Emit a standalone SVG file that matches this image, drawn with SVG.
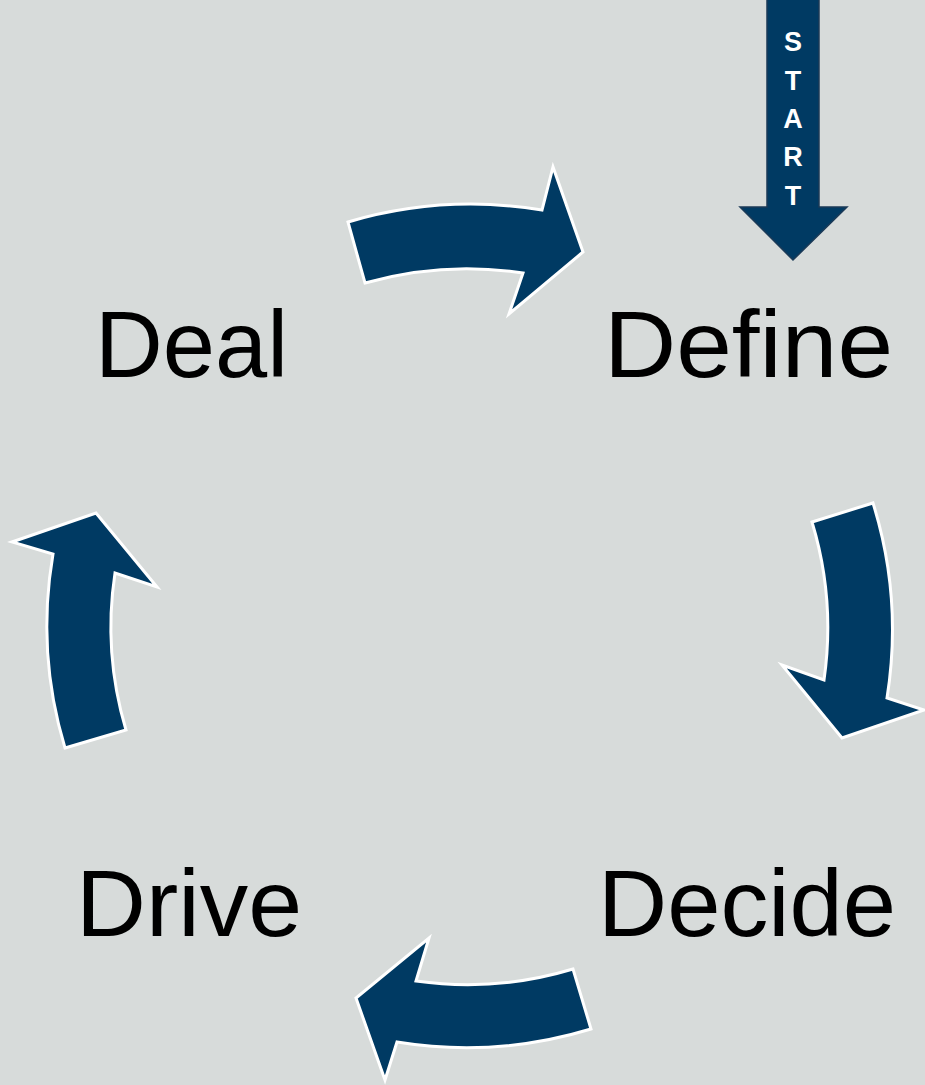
<svg xmlns="http://www.w3.org/2000/svg" width="925" height="1085" viewBox="0 0 925 1085">
<style>
.bg{fill:#d7dbda}
.arrow{fill:#003a63;stroke:#ffffff;stroke-width:3;stroke-linejoin:miter}
.start{fill:#003a63;stroke:#1b3a57;stroke-width:1.5}
.lbl{font-family:"Liberation Sans",Arial,sans-serif;font-size:94px;fill:#000000}
.st{font-family:"Liberation Sans",Arial,sans-serif;font-size:27px;font-weight:bold;fill:#ffffff;text-anchor:middle}
</style>
<rect class="bg" x="0" y="0" width="925" height="1085"/>
<g id="start">
<polygon class="start" points="767,-2 819,-2 819,207 847,207 793,260 740,207 767,207"/>
<text class="st" x="793" y="51">S</text>
<text class="st" x="793" y="90">T</text>
<text class="st" x="793" y="128">A</text>
<text class="st" x="793" y="166">R</text>
<text class="st" x="793" y="205">T</text>
</g>
<g id="connectors">
<path class="arrow" d="M 348 222 A 436 436 0 0 1 542 210 L 553 167 L 583 252 L 509 314 L 523 273 A 372 372 0 0 0 365 283 Z"/>
<path class="arrow" d="M 812 522 L 873 503 A 428 428 0 0 1 887 698 L 924 710 L 842 738 L 782 665 L 824 680 A 364 364 0 0 0 812 522 Z"/>
<path class="arrow" d="M 573 969 A 366 366 0 0 1 416 981 L 429 938 L 356 998 L 385 1080 L 397 1042 A 430 430 0 0 0 591 1029 Z"/>
<path class="arrow" d="M 65 748 L 126 730 A 360 360 0 0 1 115 573 L 157 587 L 96 513 L 12 542 L 53 554 A 424 424 0 0 0 65 748 Z"/>
</g>
<g id="deal"><text class="lbl" x="95" y="377" textLength="193" lengthAdjust="spacingAndGlyphs">Deal</text></g>
<g id="define"><text class="lbl" x="604" y="377" textLength="289" lengthAdjust="spacingAndGlyphs">Define</text></g>
<g id="decide"><text class="lbl" x="598" y="936" textLength="298" lengthAdjust="spacingAndGlyphs">Decide</text></g>
<g id="drive"><text class="lbl" x="76" y="936" textLength="226" lengthAdjust="spacingAndGlyphs">Drive</text></g>
</svg>
